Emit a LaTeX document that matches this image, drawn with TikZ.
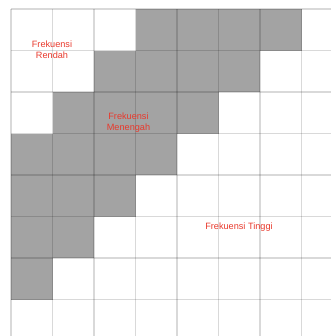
\documentclass[tikz,border=0pt]{standalone}
\usepackage{fontspec}
\setmainfont{Liberation Sans}
\definecolor{CellGray}{HTML}{A3A3A3}
\definecolor{LabelRed}{HTML}{E8392C}

\begin{document}
\begin{tikzpicture}[x=1bp,y=-1bp, every node/.style={font=\fontsize{9.2}{11}\selectfont, text=LabelRed, align=center, inner sep=0pt}]
  \useasboundingbox (0,0) rectangle (331,336);
  \clip (0,0) rectangle (331,336);
  \begin{scope}[shift={(11,9)}, x=41.5bp, y=-41.5bp]
    % shaded band of cells
    \foreach \r/\a/\b in {0/3/6, 1/2/5, 2/1/4, 3/0/3, 4/0/2, 5/0/1, 6/0/0} {
      \fill[CellGray] (\a,\r) rectangle (\b+1,\r+1);
    }
    % grid
    \foreach \k in {0,...,8} {
      \draw[black, opacity=0.15, line width=1.4bp] (\k,0) -- (\k,8);
      \draw[black, opacity=0.15, line width=1.4bp] (0,\k) -- (8,\k);
    }
  \end{scope}
  \node (rendah) at (52,50) {Frekuensi\\Rendah};
  \node (menengah) at (128.5,123) {Frekuensi\\Menengah};
  \node (tinggi) at (239,227) {Frekuensi Tinggi};
\end{tikzpicture}
\end{document}
